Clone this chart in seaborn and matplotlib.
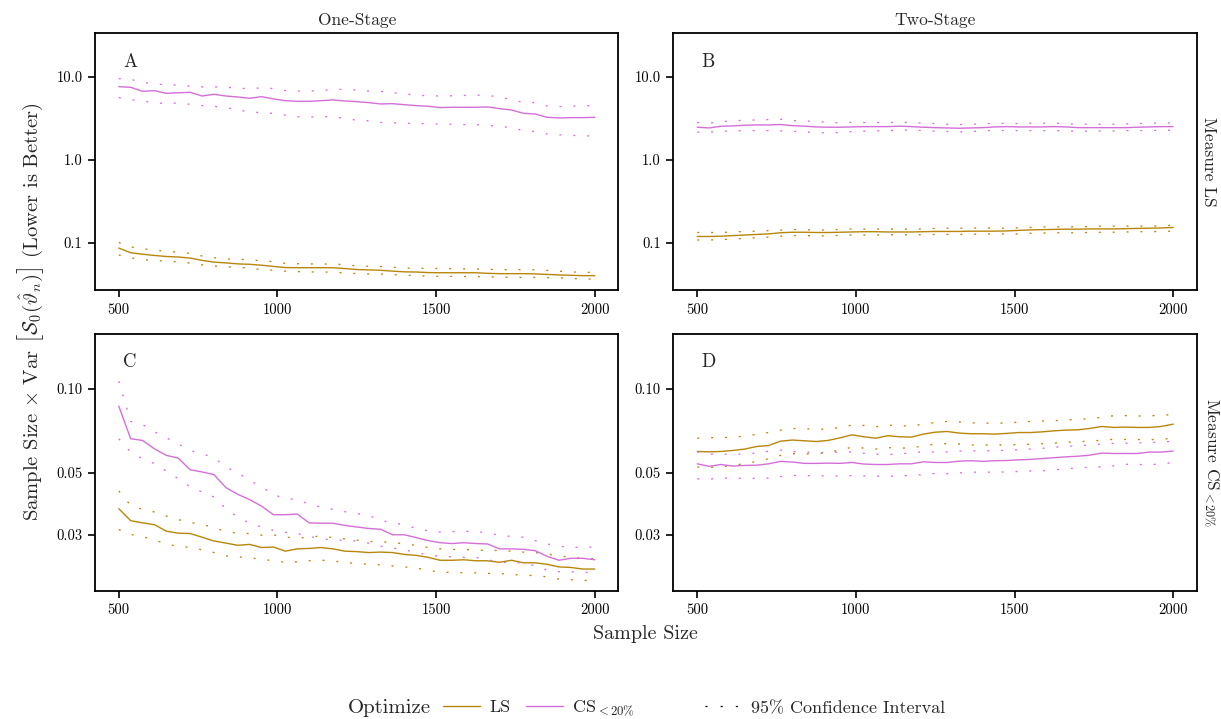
import numpy as np
import pandas as pd
import matplotlib
matplotlib.use("Agg")
import matplotlib.pyplot as plt
import seaborn as sns
from matplotlib.lines import Line2D
from matplotlib.ticker import FixedLocator, FixedFormatter, NullLocator

sns.set_theme(style="ticks")
plt.rcParams["font.family"] = ["cmr10", "DejaVu Serif"]
plt.rcParams["mathtext.fontset"] = "cm"
plt.rcParams["axes.formatter.use_mathtext"] = True
plt.rcParams["axes.unicode_minus"] = False

# ---------------- data ----------------
sample_sizes = np.linspace(500, 2000, 41)
stages = ["One-Stage", "Two-Stage"]
measures = ["Measure LS", r"Measure CS$_{<20\%}$"]
optimize_labels = ["LS", r"CS$_{<20\%}$"]
panel_letters = ["A", "B", "C", "D"]

# Panel A: One-Stage, Measure LS
A_ls_mean = [0.0871, 0.0765, 0.0735, 0.0710, 0.0690, 0.0680, 0.0660, 0.0620, 0.0590, 0.0578, 0.0562, 0.0556, 0.0542, 0.0524, 0.0508, 0.0506, 0.0506, 0.0506, 0.0505, 0.0494, 0.0481, 0.0476, 0.0471, 0.0460, 0.0451, 0.0449, 0.0442, 0.0440, 0.0440, 0.0440, 0.0440, 0.0433, 0.0429, 0.0429, 0.0429, 0.0426, 0.0420, 0.0414, 0.0410, 0.0406, 0.0406]
A_ls_hi = [0.102, 0.090, 0.0855, 0.0825, 0.0795, 0.078, 0.075, 0.070, 0.0667, 0.0643, 0.0641, 0.063, 0.0614, 0.0598, 0.057, 0.0565, 0.0562, 0.056, 0.056, 0.055, 0.0532, 0.0525, 0.0523, 0.0514, 0.0501, 0.0498, 0.0497, 0.0494, 0.0492, 0.049, 0.0488, 0.0485, 0.0479, 0.0479, 0.0479, 0.0478, 0.047, 0.0459, 0.045, 0.0446, 0.0443]
A_ls_lo = [0.0718, 0.0665, 0.0635, 0.0618, 0.0607, 0.0595, 0.0575, 0.0548, 0.053, 0.052, 0.0511, 0.0502, 0.0479, 0.0472, 0.046, 0.0454, 0.045, 0.0449, 0.0447, 0.0438, 0.043, 0.0425, 0.0424, 0.0418, 0.0411, 0.0406, 0.0401, 0.0398, 0.0398, 0.0397, 0.0395, 0.0394, 0.0389, 0.0387, 0.0387, 0.0387, 0.0384, 0.0383, 0.0375, 0.0371, 0.0369]
A_cs_mean = [7.59, 7.45, 6.67, 6.79, 6.31, 6.40, 6.49, 5.86, 6.14, 5.86, 5.70, 5.50, 5.75, 5.40, 5.15, 5.06, 5.06, 5.15, 5.25, 5.10, 5.01, 4.88, 4.70, 4.74, 4.61, 4.49, 4.41, 4.25, 4.29, 4.29, 4.29, 4.33, 4.13, 3.98, 3.63, 3.56, 3.25, 3.19, 3.22, 3.22, 3.25]
A_cs_hi = [9.46, 9.3, 8.5, 8.32, 7.9, 7.95, 7.7, 7.55, 7.55, 7.45, 7.3, 7.15, 7.35, 7.2, 6.8, 6.73, 6.73, 6.8, 7.0, 7.05, 6.9, 6.73, 6.65, 6.43, 6.2, 6.0, 5.9, 5.86, 5.9, 5.95, 6.0, 5.95, 5.7, 5.3, 4.9, 4.88, 4.45, 4.37, 4.42, 4.47, 4.5]
A_cs_lo = [5.60, 5.3, 5.05, 4.9, 4.72, 4.85, 4.65, 4.5, 4.4, 4.25, 4.0, 3.75, 3.7, 3.62, 3.45, 3.3, 3.28, 3.3, 3.3, 3.15, 3.0, 2.95, 2.82, 2.8, 2.76, 2.75, 2.72, 2.7, 2.68, 2.66, 2.65, 2.6, 2.52, 2.45, 2.25, 2.2, 2.05, 2.0, 1.97, 1.95, 1.93]

# Panel B: Two-Stage, Measure LS
B_ls_mean = [0.120, 0.120, 0.121, 0.123, 0.125, 0.127, 0.129, 0.133, 0.135, 0.135, 0.134, 0.134, 0.135, 0.136, 0.137, 0.137, 0.136, 0.136, 0.136, 0.137, 0.138, 0.138, 0.138, 0.139, 0.139, 0.139, 0.140, 0.142, 0.144, 0.145, 0.146, 0.147, 0.147, 0.148, 0.148, 0.148, 0.149, 0.150, 0.151, 0.152, 0.154]
B_ls_hi = [0.134, 0.134, 0.134, 0.136, 0.138, 0.139, 0.141, 0.143, 0.146, 0.145, 0.143, 0.144, 0.146, 0.148, 0.147, 0.147, 0.148, 0.147, 0.147, 0.148, 0.150, 0.151, 0.151, 0.151, 0.152, 0.151, 0.151, 0.153, 0.154, 0.156, 0.157, 0.157, 0.157, 0.158, 0.160, 0.160, 0.160, 0.160, 0.160, 0.161, 0.164]
B_ls_lo = [0.109, 0.109, 0.110, 0.112, 0.114, 0.116, 0.118, 0.121, 0.123, 0.123, 0.122, 0.122, 0.124, 0.125, 0.125, 0.125, 0.126, 0.126, 0.126, 0.126, 0.127, 0.127, 0.127, 0.128, 0.128, 0.129, 0.128, 0.129, 0.131, 0.132, 0.133, 0.133, 0.133, 0.134, 0.135, 0.135, 0.136, 0.137, 0.137, 0.138, 0.139]
B_cs_mean = [2.47, 2.42, 2.54, 2.56, 2.61, 2.63, 2.63, 2.66, 2.58, 2.54, 2.49, 2.47, 2.47, 2.49, 2.51, 2.51, 2.51, 2.54, 2.51, 2.47, 2.44, 2.42, 2.40, 2.42, 2.44, 2.49, 2.51, 2.49, 2.49, 2.49, 2.51, 2.49, 2.44, 2.44, 2.44, 2.44, 2.44, 2.47, 2.49, 2.51, 2.51]
B_cs_hi = [2.81, 2.76, 2.88, 2.94, 3.0, 3.02, 3.05, 3.08, 2.97, 2.94, 2.88, 2.83, 2.78, 2.83, 2.81, 2.81, 2.81, 2.83, 2.81, 2.76, 2.73, 2.68, 2.66, 2.68, 2.71, 2.76, 2.73, 2.73, 2.76, 2.76, 2.76, 2.73, 2.68, 2.68, 2.68, 2.68, 2.71, 2.73, 2.76, 2.78, 2.78]
B_cs_lo = [2.15, 2.15, 2.21, 2.23, 2.25, 2.25, 2.25, 2.23, 2.21, 2.17, 2.13, 2.11, 2.13, 2.19, 2.21, 2.23, 2.25, 2.27, 2.29, 2.25, 2.21, 2.19, 2.17, 2.19, 2.23, 2.27, 2.25, 2.25, 2.25, 2.25, 2.25, 2.23, 2.21, 2.21, 2.23, 2.23, 2.25, 2.25, 2.25, 2.27, 2.27]

# Panel C: One-Stage, Measure CS<20%
C_ls_mean = [0.0372, 0.0337, 0.0331, 0.0326, 0.0309, 0.0304, 0.0303, 0.0294, 0.0285, 0.0280, 0.0275, 0.0277, 0.0270, 0.0271, 0.0262, 0.0267, 0.0268, 0.0270, 0.0267, 0.0262, 0.0261, 0.0259, 0.0260, 0.0259, 0.0255, 0.0253, 0.0249, 0.0243, 0.0243, 0.0244, 0.0242, 0.0242, 0.0239, 0.0243, 0.0238, 0.0238, 0.0235, 0.0230, 0.0229, 0.0226, 0.0226]
C_ls_hi = [0.0431, 0.0382, 0.0370, 0.0362, 0.0350, 0.0340, 0.0332, 0.0327, 0.0318, 0.0308, 0.0304, 0.0303, 0.0299, 0.0300, 0.0294, 0.0292, 0.0294, 0.0297, 0.0293, 0.0290, 0.0287, 0.0284, 0.0283, 0.0282, 0.0278, 0.0275, 0.0270, 0.0267, 0.0266, 0.0265, 0.0265, 0.0263, 0.0264, 0.0262, 0.0260, 0.0259, 0.0256, 0.0252, 0.0249, 0.0247, 0.0246]
C_ls_lo = [0.0313, 0.0301, 0.0295, 0.0288, 0.0277, 0.0273, 0.0270, 0.0265, 0.0259, 0.0252, 0.0250, 0.0248, 0.0245, 0.0242, 0.0239, 0.0240, 0.0242, 0.0243, 0.0242, 0.0238, 0.0237, 0.0235, 0.0234, 0.0232, 0.0230, 0.0228, 0.0224, 0.0220, 0.0220, 0.0219, 0.0219, 0.0218, 0.0218, 0.0216, 0.0215, 0.0214, 0.0212, 0.0208, 0.0207, 0.0206, 0.0205]
C_cs_mean = [0.0868, 0.0663, 0.0654, 0.0610, 0.0578, 0.0565, 0.0513, 0.0504, 0.0493, 0.0443, 0.0419, 0.0401, 0.0380, 0.0354, 0.0354, 0.0356, 0.0331, 0.0330, 0.0330, 0.0324, 0.0320, 0.0316, 0.0314, 0.0300, 0.0300, 0.0293, 0.0286, 0.0281, 0.0279, 0.0281, 0.0279, 0.0278, 0.0267, 0.0267, 0.0266, 0.0263, 0.0251, 0.0243, 0.0247, 0.0247, 0.0244]
C_cs_hi = [0.1067, 0.0765, 0.0746, 0.0702, 0.0668, 0.0636, 0.0602, 0.0586, 0.0567, 0.0525, 0.0501, 0.0470, 0.0445, 0.0419, 0.0403, 0.0403, 0.0385, 0.0377, 0.0370, 0.0363, 0.0357, 0.0352, 0.0338, 0.0331, 0.0326, 0.0316, 0.0310, 0.0307, 0.0308, 0.0309, 0.0308, 0.0305, 0.0298, 0.0296, 0.0294, 0.0286, 0.0278, 0.0273, 0.0270, 0.0271, 0.0271]
C_cs_lo = [0.0663, 0.0594, 0.0562, 0.0540, 0.0508, 0.0477, 0.0445, 0.0427, 0.0410, 0.0372, 0.0347, 0.0330, 0.0320, 0.0311, 0.0306, 0.0303, 0.0296, 0.0290, 0.0288, 0.0286, 0.0285, 0.0280, 0.0273, 0.0269, 0.0265, 0.0259, 0.0254, 0.0251, 0.0250, 0.0249, 0.0249, 0.0244, 0.0239, 0.0238, 0.0238, 0.0232, 0.0224, 0.0221, 0.0221, 0.0220, 0.0220]

# Panel D: Two-Stage, Measure CS<20%
D_ls_mean = [0.0597, 0.0595, 0.0597, 0.0602, 0.0609, 0.0622, 0.0627, 0.0650, 0.0656, 0.0652, 0.0648, 0.0654, 0.0668, 0.0685, 0.0674, 0.0666, 0.0680, 0.0674, 0.0672, 0.0689, 0.0700, 0.0704, 0.0695, 0.0691, 0.0691, 0.0689, 0.0693, 0.0698, 0.0698, 0.0702, 0.0708, 0.0712, 0.0714, 0.0722, 0.0734, 0.0728, 0.0730, 0.0728, 0.0728, 0.0734, 0.0748]
D_ls_hi = [0.0666, 0.0669, 0.0669, 0.0672, 0.0678, 0.0688, 0.0698, 0.0712, 0.0722, 0.0720, 0.0717, 0.0718, 0.0728, 0.0742, 0.0740, 0.0732, 0.0742, 0.0738, 0.0737, 0.0748, 0.0758, 0.0765, 0.0762, 0.0756, 0.0755, 0.0754, 0.0755, 0.0760, 0.0765, 0.0768, 0.0770, 0.0774, 0.0778, 0.0782, 0.0792, 0.0802, 0.0803, 0.0800, 0.0802, 0.0803, 0.0812]
D_ls_lo = [0.0525, 0.0523, 0.0526, 0.0532, 0.0540, 0.0550, 0.0562, 0.0578, 0.0586, 0.0585, 0.0585, 0.0592, 0.0605, 0.0618, 0.0614, 0.0609, 0.0616, 0.0614, 0.0614, 0.0626, 0.0634, 0.0637, 0.0635, 0.0630, 0.0629, 0.0630, 0.0630, 0.0632, 0.0634, 0.0636, 0.0640, 0.0644, 0.0647, 0.0650, 0.0655, 0.0660, 0.0659, 0.0659, 0.0658, 0.0660, 0.0666]
D_cs_mean = [0.0539, 0.0528, 0.0536, 0.0529, 0.0532, 0.0533, 0.0539, 0.0550, 0.0547, 0.0541, 0.0541, 0.0542, 0.0541, 0.0545, 0.0538, 0.0536, 0.0536, 0.0539, 0.0539, 0.0548, 0.0545, 0.0545, 0.0551, 0.0553, 0.0550, 0.0553, 0.0554, 0.0557, 0.0559, 0.0563, 0.0567, 0.0571, 0.0574, 0.0579, 0.0589, 0.0587, 0.0587, 0.0587, 0.0594, 0.0594, 0.0599]
D_cs_hi = [0.0595, 0.0583, 0.0585, 0.0582, 0.0586, 0.0589, 0.0598, 0.0604, 0.0596, 0.0593, 0.0593, 0.0591, 0.0595, 0.0594, 0.0588, 0.0584, 0.0582, 0.0585, 0.0590, 0.0596, 0.0594, 0.0595, 0.0599, 0.0600, 0.0600, 0.0601, 0.0603, 0.0606, 0.0609, 0.0613, 0.0618, 0.0622, 0.0626, 0.0629, 0.0635, 0.0638, 0.0639, 0.0641, 0.0642, 0.0645, 0.0650]
D_cs_lo = [0.0476, 0.0475, 0.0479, 0.0479, 0.0478, 0.0478, 0.0479, 0.0485, 0.0490, 0.0489, 0.0488, 0.0488, 0.0487, 0.0489, 0.0488, 0.0487, 0.0486, 0.0488, 0.0490, 0.0493, 0.0498, 0.0497, 0.0500, 0.0503, 0.0503, 0.0503, 0.0504, 0.0506, 0.0508, 0.0509, 0.0513, 0.0517, 0.0521, 0.0524, 0.0526, 0.0530, 0.0537, 0.0536, 0.0535, 0.0538, 0.0545]

top_ticks = [0.1, 1.0, 10.0]
top_ticklabels = ["0.1", "1.0", "10.0"]
bottom_ticks = [0.03, 0.05, 0.10]
bottom_ticklabels = ["0.03", "0.05", "0.10"]
x_ticks = [500, 1000, 1500, 2000]

# ---------------- long table ----------------
panels = {
    ("Measure LS", "One-Stage"): {"LS": (A_ls_mean, A_ls_lo, A_ls_hi), "CS": (A_cs_mean, A_cs_lo, A_cs_hi)},
    ("Measure LS", "Two-Stage"): {"LS": (B_ls_mean, B_ls_lo, B_ls_hi), "CS": (B_cs_mean, B_cs_lo, B_cs_hi)},
    (measures[1], "One-Stage"): {"LS": (C_ls_mean, C_ls_lo, C_ls_hi), "CS": (C_cs_mean, C_cs_lo, C_cs_hi)},
    (measures[1], "Two-Stage"): {"LS": (D_ls_mean, D_ls_lo, D_ls_hi), "CS": (D_cs_mean, D_cs_lo, D_cs_hi)},
}
frames = []
for (meas, stage), series in panels.items():
    for key, opt in zip(["LS", "CS"], optimize_labels):
        for stat, vals in zip(["mean", "lo", "hi"], series[key]):
            frames.append(pd.DataFrame({"n": sample_sizes, "value": vals, "measure": meas,
                                        "stage": stage, "optimize": opt, "stat": stat}))
df = pd.concat(frames, ignore_index=True)

palette = {optimize_labels[0]: "#b8860b", optimize_labels[1]: "#d56fd8"}
ci_style = (0, (1.5, 9))


def draw(data, **kws):
    ax = plt.gca()
    for opt in optimize_labels:
        sub = data[data["optimize"] == opt]
        sns.lineplot(data=sub[sub["stat"] == "mean"], x="n", y="value", color=palette[opt],
                     lw=1.0, estimator=None, errorbar=None, ax=ax)
        for st in ["lo", "hi"]:
            sns.lineplot(data=sub[sub["stat"] == st], x="n", y="value", color=palette[opt],
                         lw=0.95, linestyle=ci_style, estimator=None, errorbar=None, ax=ax)


g = sns.FacetGrid(df, row="measure", col="stage", row_order=measures, col_order=stages,
                  margin_titles=True, sharex=False, sharey=False, despine=False,
                  height=3, aspect=1.6)
g.map_dataframe(draw)
g.set_titles(row_template="", col_template="{col_name}", size=12.5)
g.set_axis_labels("", "")

fig = g.figure
fig.set_size_inches(12.21, 7.19)
fig.subplots_adjust(left=0.0778, right=0.9803, top=0.9541, bottom=0.178, wspace=0.105, hspace=0.168)

for i, ax in enumerate(g.axes.flat):
    r, c = divmod(i, 2)
    ax.set_yscale("log")
    ax.set_xlim(425, 2075)
    ax.xaxis.set_major_locator(FixedLocator(x_ticks))
    ax.xaxis.set_major_formatter(FixedFormatter([str(t) for t in x_ticks]))
    if r == 0:
        ax.set_ylim(0.027, 33.5)
        ax.yaxis.set_major_locator(FixedLocator(top_ticks))
        ax.yaxis.set_major_formatter(FixedFormatter(top_ticklabels))
    else:
        ax.set_ylim(0.01885, 0.158)
        ax.yaxis.set_major_locator(FixedLocator(bottom_ticks))
        ax.yaxis.set_major_formatter(FixedFormatter(bottom_ticklabels))
    ax.yaxis.set_minor_locator(NullLocator())
    ax.xaxis.set_minor_locator(NullLocator())
    ax.tick_params(axis="both", which="major", direction="out", length=5, width=1.2,
                   labelsize=10.5, color="black", labelcolor="black", pad=4)
    for sp in ax.spines.values():
        sp.set_color("black")
        sp.set_linewidth(1.3)
    ax.grid(False)
    ax.text(0.054, 0.889, panel_letters[i], transform=ax.transAxes, fontsize=13.5,
            ha="left", va="center")
    if c == 1:
        ax.text(1.008, 0.5, measures[r], transform=ax.transAxes, rotation=270,
                ha="left", va="center", fontsize=12.5)

fig.text(0.529, 0.118, "Sample Size", ha="center", va="center", fontsize=14.5)
fig.text(0.0246, 0.566,
         r"Sample Size $\times$ Var $\left[\mathcal{S}_0(\hat{\vartheta}_n)\right]$ (Lower is Better)",
         ha="center", va="center", rotation=90, fontsize=14.8)

fig.text(431 / 1221, 0.0153, "Optimize", ha="right", va="center", fontsize=15)
leg_handles = [Line2D([], [], color=palette[optimize_labels[0]], lw=1.0),
               Line2D([], [], color=palette[optimize_labels[1]], lw=1.0)]
fig.legend(leg_handles, optimize_labels, loc="center left",
           bbox_to_anchor=(443 / 1221, 0.0153), ncol=2, frameon=False, fontsize=13,
           handlelength=2.05, handletextpad=0.5, columnspacing=0.85,
           borderaxespad=0, borderpad=0)
ci_handle = [Line2D([], [], color="black", lw=0.95, linestyle=(0, (1.5, 10)))]
fig.legend(ci_handle, ["95% Confidence Interval"], loc="center left",
           bbox_to_anchor=(705 / 1221, 0.0153), frameon=False, fontsize=13,
           handlelength=2.05, handletextpad=0.5, borderaxespad=0, borderpad=0)

fig.savefig("out.png", dpi=100)
